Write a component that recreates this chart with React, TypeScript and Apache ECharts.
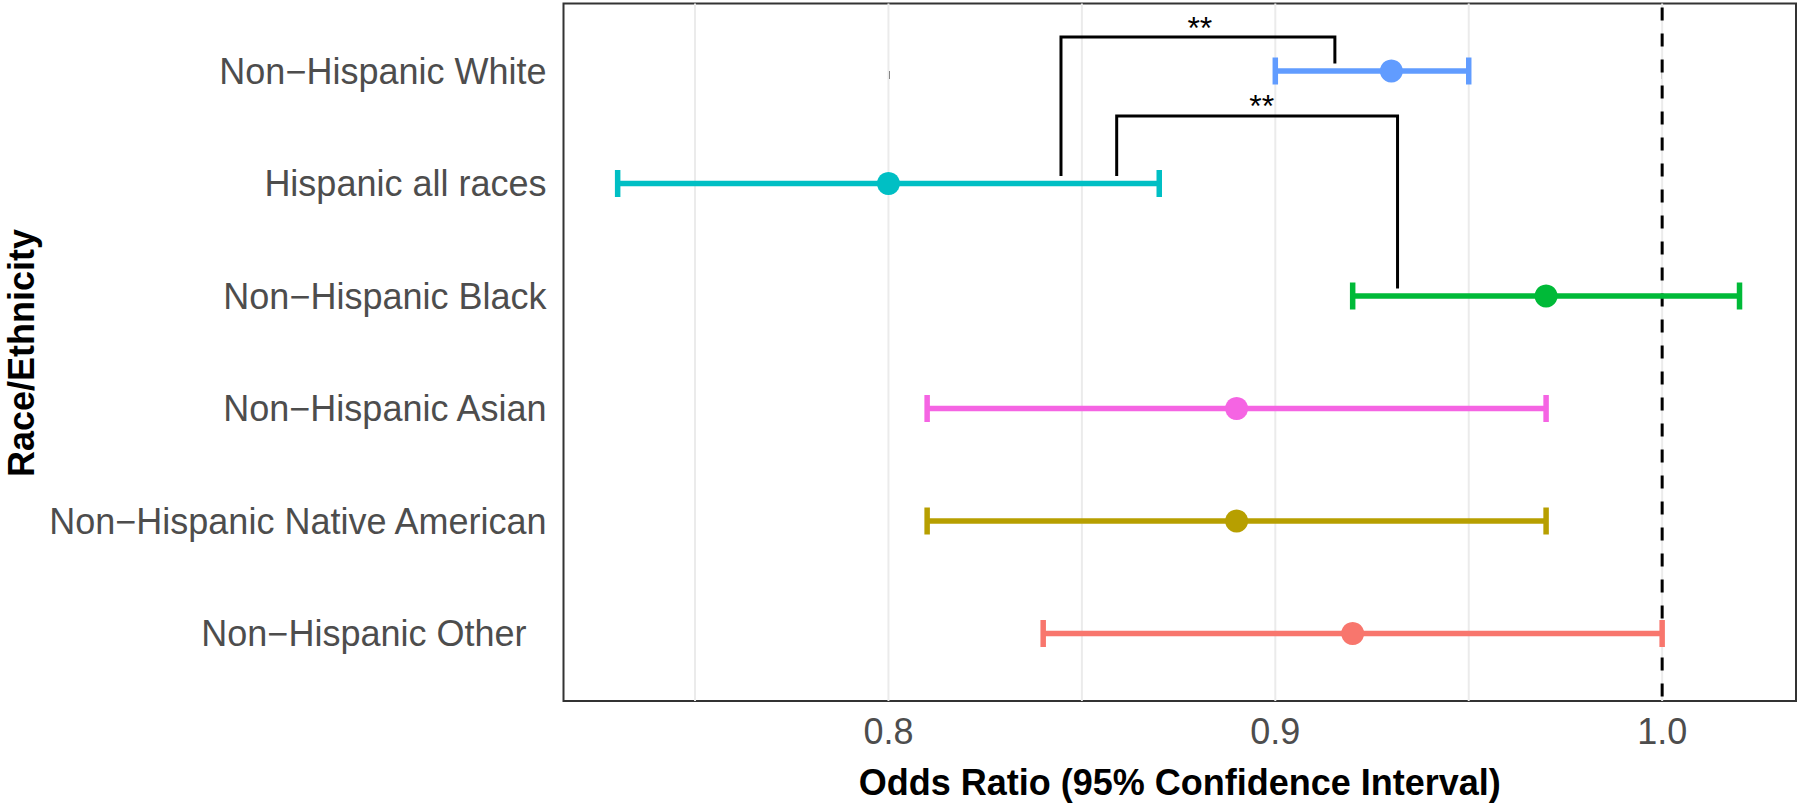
import React, { useEffect, useRef } from "react";
import * as echarts from "echarts";

const categories = [
  "Non\u2212Hispanic White",
  "Hispanic all races",
  "Non\u2212Hispanic Black",
  "Non\u2212Hispanic Asian",
  "Non\u2212Hispanic Native American",
  "Non\u2212Hispanic Other",
];
const estimates = [0.93, 0.8, 0.97, 0.89, 0.89, 0.92];
const lower = [0.9, 0.73, 0.92, 0.81, 0.81, 0.84];
const upper = [0.95, 0.87, 1.02, 0.97, 0.97, 1.0];
const colors = ["#619CFF", "#00BFC4", "#00BA38", "#F564E3", "#B79F00", "#F8766D"];

const xTicks = [0.8, 0.9, 1.0];
const gridValues = [0.75, 0.8, 0.85, 0.9, 0.95, 1.0];
const refValue = 1.0;

// significance brackets: [x, y(category index units)]
const bracket1 = [
  [0.8446, 0.934],
  [0.8446, -0.302],
  [0.9154, -0.302],
  [0.9154, -0.066],
];
const bracket2 = [
  [0.859, 0.934],
  [0.859, 0.399],
  [0.9316, 0.399],
  [0.9316, 1.934],
];
const starLabels = [
  [0.8805, -0.38],
  [0.8965, 0.307],
];

const FONT = "'Liberation Sans', Arial, Helvetica, sans-serif";

export default function App() {
  const ref = useRef<HTMLDivElement>(null);
  useEffect(() => {
    document.body.style.margin = "0";
    if (!ref.current) return;
    const chart = echarts.init(ref.current, undefined, { renderer: "svg" });
    const option: any = {
      animation: false,
      backgroundColor: "#ffffff",
      grid: {
        left: 563.5,
        right: 4,
        top: 3.5,
        bottom: 102.5,
        show: true,
        borderColor: "#333333",
        borderWidth: 2,
        backgroundColor: "transparent",
      },
      graphic: [
        {
          type: "text",
          x: 21,
          y: 353,
          rotation: Math.PI / 2,
          style: {
            text: "Race/Ethnicity",
            fontSize: 36,
            fontWeight: "bold",
            fill: "#000000",
            fontFamily: FONT,
            align: "center",
            verticalAlign: "middle",
          },
        },
      ],
      xAxis: {
        type: "value",
        min: 0.716,
        max: 1.0346,
        axisLine: { show: false },
        splitLine: { show: false },
        axisTick: {
          show: true,
          customValues: xTicks,
          length: 8,
          lineStyle: { color: "#333333", width: 2 },
        },
        axisLabel: {
          customValues: xTicks,
          formatter: (v: number) => v.toFixed(1),
          fontSize: 36,
          color: "#4D4D4D",
          margin: 12,
          fontFamily: FONT,
        },
        name: "Odds Ratio (95% Confidence Interval)",
        nameLocation: "middle",
        nameGap: 63,
        nameTextStyle: { fontSize: 36, fontWeight: "bold", color: "#000000", fontFamily: FONT },
      },
      yAxis: {
        type: "value",
        min: -0.6,
        max: 5.6,
        inverse: true,
        axisLine: { show: false },
        axisTick: { show: false },
        splitLine: { show: false },
        axisLabel: {
          customValues: [0, 1, 2, 3, 4, 5],
          formatter: (v: number) => {
            const name = categories[Math.round(v)] ?? "";
            return Math.round(v) === 5 ? `{pad|${name}}` : name;
          },
          rich: {
            pad: { padding: [0, 20, 0, 0], fontSize: 36, color: "#4D4D4D", fontFamily: FONT },
          },
          fontSize: 36,
          color: "#4D4D4D",
          margin: 17,
          fontFamily: FONT,
        },
      },
      series: [
        {
          type: "custom",
          silent: true,
          z: 1,
          data: gridValues.map((v) => [v, -0.6]),
          encode: { x: 0, y: 1 },
          renderItem: (params: any, api: any) => {
            const x = api.value(0);
            const p1 = api.coord([x, -0.6]);
            const p2 = api.coord([x, 5.6]);
            return {
              type: "rect",
              shape: { x: p1[0] - 1, y: p1[1], width: 2, height: p2[1] - p1[1] },
              style: { fill: "#EBEBEB", stroke: null },
            };
          },
        },
        {
          type: "custom",
          silent: true,
          z: 2,
          data: [[refValue, -0.6]],
          encode: { x: 0, y: 1 },
          renderItem: (params: any, api: any) => {
            const x = api.value(0);
            const p1 = api.coord([x, -0.6]);
            const p2 = api.coord([x, 5.6]);
            return {
              type: "line",
              shape: { x1: p1[0], y1: p1[1] + 4, x2: p2[0], y2: p2[1] },
              style: { stroke: "#000000", lineWidth: 3, lineDash: [13, 13] },
            };
          },
        },
        {
          type: "custom",
          silent: true,
          z: 3,
          data: categories.map((_, i) => [lower[i], upper[i], i]),
          encode: { x: [0, 1], y: 2 },
          renderItem: (params: any, api: any) => {
            const lo = api.coord([api.value(0), api.value(2)]);
            const hi = api.coord([api.value(1), api.value(2)]);
            const c = colors[params.dataIndex];
            const h = 13.5;
            const st = { stroke: c, lineWidth: 5.5 };
            return {
              type: "group",
              children: [
                { type: "line", shape: { x1: lo[0], y1: lo[1], x2: hi[0], y2: hi[1] }, style: st },
                { type: "line", shape: { x1: lo[0], y1: lo[1] - h, x2: lo[0], y2: lo[1] + h }, style: st },
                { type: "line", shape: { x1: hi[0], y1: hi[1] - h, x2: hi[0], y2: hi[1] + h }, style: st },
              ],
            };
          },
        },
        {
          type: "scatter",
          z: 4,
          symbol: "circle",
          symbolSize: 23,
          silent: true,
          data: estimates.map((e, i) => ({ value: [e, i], itemStyle: { color: colors[i], opacity: 1 } })),
        },
        {
          type: "line",
          z: 5,
          symbol: "none",
          silent: true,
          data: bracket1,
          lineStyle: { color: "#000000", width: 3, join: "miter" },
        },
        {
          type: "line",
          z: 5,
          symbol: "none",
          silent: true,
          data: bracket2,
          lineStyle: { color: "#000000", width: 3, join: "miter" },
        },
        {
          type: "custom",
          silent: true,
          z: 6,
          data: starLabels,
          encode: { x: 0, y: 1 },
          renderItem: (params: any, api: any) => {
            const p = api.coord([api.value(0), api.value(1)]);
            return {
              type: "text",
              x: p[0],
              y: p[1],
              style: {
                text: "**",
                fontSize: 32,
                fontFamily: FONT,
                fill: "#000000",
                align: "center",
                verticalAlign: "middle",
              },
            };
          },
        },
      ],
    };
    chart.setOption(option);
    return () => chart.dispose();
  }, []);
  return <div ref={ref} style={{ width: 1800, height: 805 }} />;
}
